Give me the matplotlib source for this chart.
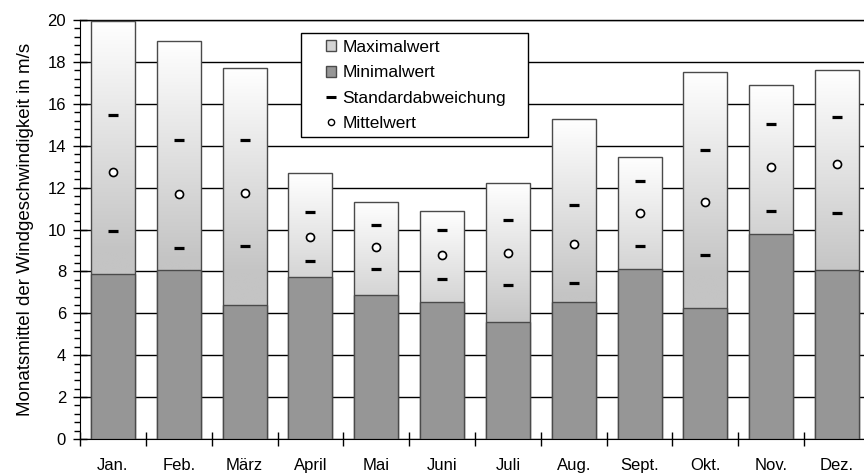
import numpy as np
import matplotlib
matplotlib.use("Agg")
import matplotlib.pyplot as plt
from matplotlib.lines import Line2D
from matplotlib.patches import Patch, Rectangle
from matplotlib.ticker import MultipleLocator

plt.rcParams['font.family'] = ['Liberation Sans', 'DejaVu Sans']

months = ['Jan.', 'Feb.', 'März', 'April', 'Mai', 'Juni', 'Juli', 'Aug.',
          'Sept.', 'Okt.', 'Nov.', 'Dez.']
max_vals = [19.97, 19.01, 17.69, 12.68, 11.33, 10.87, 12.20, 15.29, 13.47, 17.50, 16.88, 17.61]
min_vals = [7.88, 8.07, 6.38, 7.75, 6.87, 6.52, 5.58, 6.54, 8.11, 6.27, 9.79, 8.08]
mean_vals = [12.73, 11.68, 11.73, 9.64, 9.18, 8.78, 8.89, 9.31, 10.80, 11.31, 13.00, 13.13]
std_upper = [15.45, 14.26, 14.26, 10.84, 10.23, 9.98, 10.44, 11.18, 12.30, 13.78, 15.05, 15.38]
std_lower = [9.94, 9.12, 9.20, 8.50, 8.10, 7.64, 7.37, 7.43, 9.23, 8.77, 10.90, 10.77]

fig = plt.figure(figsize=(8.64, 4.76), dpi=100)
ax = fig.add_axes([80 / 864, 37 / 476, 790 / 864, 419 / 476])

x = np.arange(len(months))
width = 0.67
edge = '#4a4a4a'

# gradient for the max bars: white at top, fading to gray, then flat
grad = np.linspace(0, 1, 256)
shade = np.clip(grad / 0.55, 0, 1)
lvl = 1.0 - shade * (1.0 - 0xc4 / 255)
img = np.stack([lvl, lvl, lvl], axis=-1)[:, None, :].repeat(2, axis=1)

bars = ax.bar(x, max_vals, width, color='none', edgecolor=edge, linewidth=1.0, zorder=3)
for b, top in zip(bars, max_vals):
    x0 = b.get_x()
    im = ax.imshow(img, extent=[x0, x0 + width, 0, top], origin='upper',
                   aspect='auto', zorder=2.5, interpolation='bilinear')
    im.set_clip_path(b)

ax.bar(x, min_vals, width, color='#969696', edgecolor=edge, linewidth=1.0, zorder=4)

ax.plot(x, std_upper, linestyle='none', marker='_', ms=7, mew=2.3, color='black', zorder=5)
ax.plot(x, std_lower, linestyle='none', marker='_', ms=7, mew=2.3, color='black', zorder=5)
ax.plot(x, mean_vals, linestyle='none', marker='o', ms=5.8, mew=1.2,
        mfc='white', mec='black', zorder=5)

ax.set_xlim(-0.5, len(months) - 0.5)
ax.set_ylim(0, 20)
ax.yaxis.set_major_locator(MultipleLocator(2))
ax.yaxis.set_minor_locator(MultipleLocator(0.4))
ax.set_xticks(x)
ax.set_xticklabels(months, fontsize=12)
ax.set_xticks(np.arange(len(months)) - 0.5, minor=True)
ax.tick_params(axis='x', which='major', length=0, pad=13.5)
ax.tick_params(axis='x', which='minor', direction='inout', length=10, width=1)
ax.tick_params(axis='y', which='major', direction='inout', length=10, width=1,
               labelsize=12, pad=5)
ax.tick_params(axis='y', which='minor', direction='out', length=4, width=1)
ax.yaxis.grid(True, color='black', linewidth=1.0, zorder=1)
ax.set_axisbelow(True)
ax.spines['right'].set_visible(False)
ax.spines['top'].set_linewidth(1.0)

ax.set_ylabel('Monatsmittel der Windgeschwindigkeit in m/s', fontsize=13.5, labelpad=10)

handles = [
    Patch(facecolor='#d4d4d4', edgecolor=edge, label='Maximalwert'),
    Patch(facecolor='#969696', edgecolor=edge, label='Minimalwert'),
    Line2D([], [], linestyle='none', marker='_', ms=6.5, mew=2.2, color='black', label='Standardabweichung'),
    Line2D([], [], linestyle='none', marker='o', ms=4.5, mew=1.0, mfc='white', mec='black', label='Mittelwert'),
]
leg = ax.legend(handles=handles, loc='upper left',
                bbox_to_anchor=(326 / 864, 1 - 40 / 476), bbox_transform=fig.transFigure,
                fontsize=12.5, frameon=False,
                handlelength=0.6, handleheight=0.6, handletextpad=0.35,
                borderpad=0, labelspacing=0.6, borderaxespad=0)
leg.set_zorder(10)
frame = Rectangle((301 / 864, 1 - 137 / 476), 227 / 864, 104 / 476,
                  transform=fig.transFigure, facecolor='white', edgecolor='black',
                  linewidth=1.0, zorder=9, clip_on=False)
ax.add_patch(frame)

fig.savefig('out.png', dpi=100)
